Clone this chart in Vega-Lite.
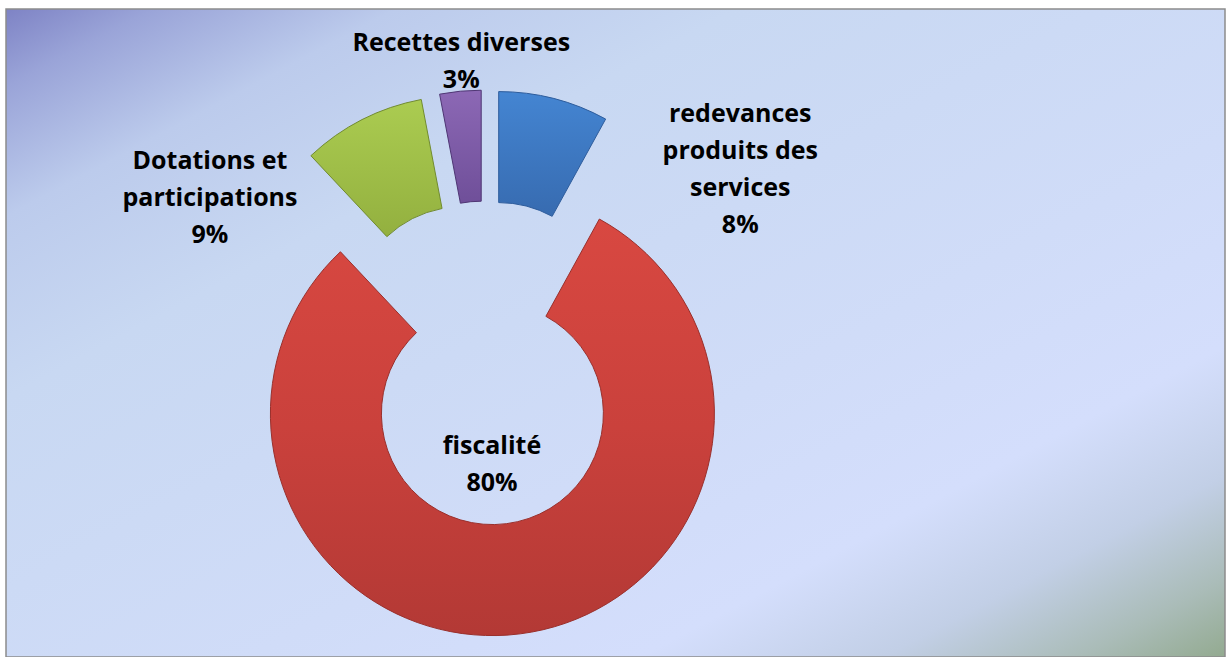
{
  "$schema": "https://vega.github.io/schema/vega-lite/v6.json",
  "width": 1226,
  "height": 657,
  "autosize": {"type": "fit", "contains": "padding"},
  "padding": {"left": 6, "top": 9, "right": 1, "bottom": 0},
  "background": "#ffffff",
  "config": {
    "view": {
      "fill": {
        "gradient": "linear",
        "x1": 0, "y1": 0, "x2": 1, "y2": 1,
        "stops": [
          {"offset": 0, "color": "#7e83c5"},
          {"offset": 0.06, "color": "#9aa4d8"},
          {"offset": 0.16, "color": "#bccbec"},
          {"offset": 0.3, "color": "#c8d8f2"},
          {"offset": 0.6, "color": "#d0dcf8"},
          {"offset": 0.76, "color": "#d4defc"},
          {"offset": 0.86, "color": "#c2cfe6"},
          {"offset": 0.94, "color": "#aabcb8"},
          {"offset": 1, "color": "#93aa90"}
        ]
      },
      "stroke": "#8c8c8c",
      "strokeWidth": 1.5
    },
    "text": {"font": "Open Sans", "fontWeight": "bold", "fontSize": 25, "lineHeight": 37, "align": "center", "baseline": "middle", "color": "#000000"}
  },
  "data": {
    "values": [
      {"categorie": "redevances produits des services", "part": 8, "etiquette": ["redevances", "produits des", "services", "8%"]},
      {"categorie": "fiscalité", "part": 80, "etiquette": ["fiscalité", "80%"]},
      {"categorie": "Dotations et participations", "part": 9, "etiquette": ["Dotations et", "participations", "9%"]},
      {"categorie": "Recettes diverses", "part": 3, "etiquette": ["Recettes diverses", "3%"]}
    ]
  },
  "transform": [
    {"stack": "part", "groupby": [], "as": ["debut", "fin"]},
    {"calculate": "(datum.debut + datum.fin) / 2", "as": "milieu"},
    {"calculate": "sin(datum.milieu / 100 * 2 * PI)", "as": "ex"},
    {"calculate": "cos(datum.milieu / 100 * 2 * PI)", "as": "ey"}
  ],
  "encoding": {
    "x": {"field": "ex", "type": "quantitative", "scale": {"domain": [-9.412, 14.49], "nice": false, "zero": false}, "axis": null},
    "y": {"field": "ey", "type": "quantitative", "scale": {"domain": [-5.765, 6.941], "nice": false, "zero": false}, "axis": null}
  },
  "layer": [
    {
      "transform": [{"filter": "datum.categorie === 'redevances produits des services'"}],
      "mark": {"type": "arc", "outerRadius": 222, "innerRadius": 111, "strokeWidth": 1, "stroke": "#2d5c9c",
        "fill": {"gradient": "linear", "x1": 0, "y1": 0, "x2": 0, "y2": 1, "stops": [{"offset": 0, "color": "#4485d2"}, {"offset": 1, "color": "#376bb0"}]}},
      "encoding": {
        "theta": {"field": "debut", "type": "quantitative", "stack": null, "scale": {"domain": [0, 100]}},
        "theta2": {"field": "fin"}
      }
    },
    {
      "transform": [{"filter": "datum.categorie === 'fiscalité'"}],
      "mark": {"type": "arc", "outerRadius": 222, "innerRadius": 111, "strokeWidth": 1, "stroke": "#9a302c",
        "fill": {"gradient": "linear", "x1": 0, "y1": 0, "x2": 0, "y2": 1, "stops": [{"offset": 0, "color": "#d84841"}, {"offset": 0.5, "color": "#ca413c"}, {"offset": 1, "color": "#b33935"}]}},
      "encoding": {
        "theta": {"field": "debut", "type": "quantitative", "stack": null, "scale": {"domain": [0, 100]}},
        "theta2": {"field": "fin"}
      }
    },
    {
      "transform": [{"filter": "datum.categorie === 'Dotations et participations'"}],
      "mark": {"type": "arc", "outerRadius": 222, "innerRadius": 111, "strokeWidth": 1, "stroke": "#718b30",
        "fill": {"gradient": "linear", "x1": 0, "y1": 0, "x2": 0, "y2": 1, "stops": [{"offset": 0, "color": "#abcc51"}, {"offset": 1, "color": "#93b03f"}]}},
      "encoding": {
        "theta": {"field": "debut", "type": "quantitative", "stack": null, "scale": {"domain": [0, 100]}},
        "theta2": {"field": "fin"}
      }
    },
    {
      "transform": [{"filter": "datum.categorie === 'Recettes diverses'"}],
      "mark": {"type": "arc", "outerRadius": 222, "innerRadius": 111, "strokeWidth": 1, "stroke": "#4f3674",
        "fill": {"gradient": "linear", "x1": 0, "y1": 0, "x2": 0, "y2": 1, "stops": [{"offset": 0, "color": "#8c68b5"}, {"offset": 1, "color": "#6f4f99"}]}},
      "encoding": {
        "theta": {"field": "debut", "type": "quantitative", "stack": null, "scale": {"domain": [0, 100]}},
        "theta2": {"field": "fin"}
      }
    },
    {
      "transform": [{"filter": "datum.categorie === 'Recettes diverses'"}],
      "mark": {"type": "text", "radius": 321, "thetaOffset": 0.017},
      "encoding": {
        "x": {"datum": 0, "type": "quantitative"},
        "y": {"datum": 0, "type": "quantitative"},
        "theta": {"field": "milieu", "type": "quantitative", "stack": null},
        "text": {"field": "etiquette"}
      }
    },
    {
      "transform": [{"filter": "datum.categorie === 'redevances produits des services'"}],
      "mark": {"type": "text", "radius": 355.7, "thetaOffset": 0.545},
      "encoding": {
        "x": {"datum": 0, "type": "quantitative"},
        "y": {"datum": 0, "type": "quantitative"},
        "theta": {"field": "milieu", "type": "quantitative", "stack": null},
        "text": {"field": "etiquette"}
      }
    },
    {
      "transform": [{"filter": "datum.categorie === 'Dotations et participations'"}],
      "mark": {"type": "text", "radius": 342, "thetaOffset": -0.468},
      "encoding": {
        "x": {"datum": 0, "type": "quantitative"},
        "y": {"datum": 0, "type": "quantitative"},
        "theta": {"field": "milieu", "type": "quantitative", "stack": null},
        "text": {"field": "etiquette"}
      }
    },
    {
      "transform": [{"filter": "datum.categorie === 'fiscalité'"}],
      "mark": {"type": "text", "radius": 83.2, "thetaOffset": 0.054},
      "encoding": {
        "x": {"datum": 0, "type": "quantitative"},
        "y": {"datum": 0, "type": "quantitative"},
        "theta": {"field": "milieu", "type": "quantitative", "stack": null},
        "text": {"field": "etiquette"}
      }
    }
  ]
}
